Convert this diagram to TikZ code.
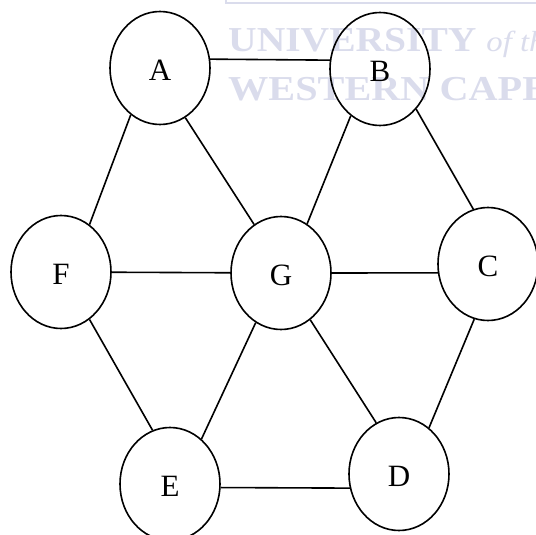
\documentclass[tikz,border=0pt]{standalone}
\usepackage{fontspec}
\setmainfont{Liberation Serif}
\usetikzlibrary{shapes.geometric}
\definecolor{wm}{RGB}{218,220,236}
\begin{document}
\begin{tikzpicture}[x=1pt,y=-1pt,
  vert/.style={draw, ellipse, line width=1.6pt, minimum width=100pt, minimum height=113pt, inner sep=0pt},
  vlabel/.style={font=\fontsize{31}{36}\selectfont, yshift=-2.5pt, inner sep=0pt},
  edge/.style={line width=1.6pt},
  wmtext/.style={text=wm, inner sep=0pt, anchor=base west, font=\bfseries\fontsize{35}{40}\selectfont}]
\useasboundingbox (0,0) rectangle (536,535);
\clip (0,0) rectangle (536,535);
% watermark
\draw[wm, line width=1.5pt] (226,0) -- (226,3) -- (540,3);
\node[wmtext] (wm1) at (228,52) {\scalebox{1.13}[1]{UNIVERSITY\hspace{0.25em}{\mdseries\itshape\fontsize{29}{34}\selectfont of the}}};
\node[wmtext] (wm2) at (228,100) {\scalebox{1.15}[1]{WESTERN CAPE}};
% vertices
\node[vert, label={[vlabel]center:A}] (A) at (160,68) {};
\node[vert, label={[vlabel]center:B}] (B) at (380,69) {};
\node[vert, label={[vlabel]center:C}] (C) at (488,264) {};
\node[vert, label={[vlabel]center:D}] (D) at (399,474) {};
\node[vert, label={[vlabel]center:E}] (E) at (170,484) {};
\node[vert, label={[vlabel]center:F}] (F) at (61,272) {};
\node[vert, label={[vlabel]center:G}] (G) at (281,273) {};
% edges
\draw[edge] (A.10) -- (B.170);
\draw[edge] (A.238) -- (F.59);
\draw[edge] (A.297) -- (G.119);
\draw[edge] (B.238) -- (G.62);
\draw[edge] (B.312) -- (C.105);
\draw[edge] (F) -- (G);
\draw[edge] (G.east) -- (C.190);
\draw[edge] (C.256) -- (D.57);
\draw[edge] (G.302) -- (D.114);
\draw[edge] (G.243) -- (E.55);
\draw[edge] (F.301) -- (E.108);
\draw[edge] (E.-4) -- (D.196);
\end{tikzpicture}
\end{document}
